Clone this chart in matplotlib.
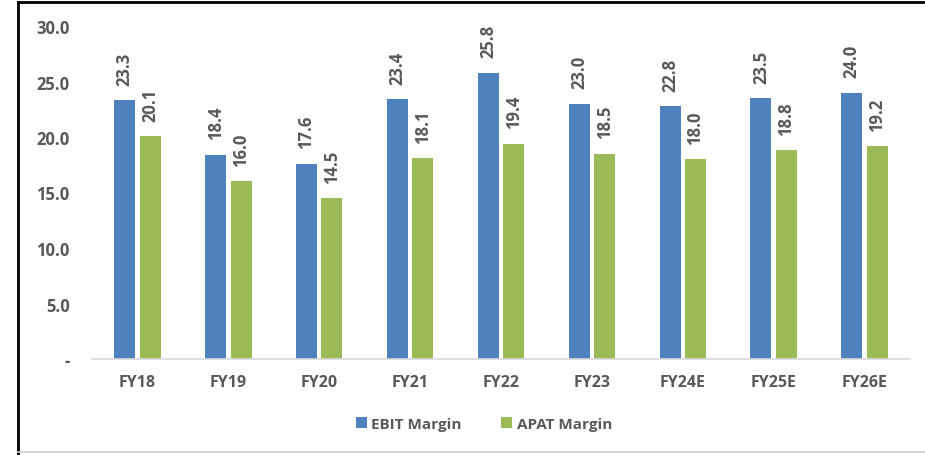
import matplotlib
matplotlib.use("Agg")
import matplotlib.pyplot as plt
from matplotlib.lines import Line2D
import numpy as np

categories = ["FY18", "FY19", "FY20", "FY21", "FY22", "FY23", "FY24E", "FY25E", "FY26E"]
ebit_margin = [23.3, 18.4, 17.6, 23.4, 25.8, 23.0, 22.8, 23.5, 24.0]
apat_margin = [20.1, 16.0, 14.5, 18.1, 19.4, 18.5, 18.0, 18.8, 19.2]
series_names = ["EBIT Margin", "APAT Margin"]
yticks = [0, 5, 10, 15, 20, 25, 30]
ytick_labels = ["-", "5.0", "10.0", "15.0", "20.0", "25.0", "30.0"]

plt.rcParams['font.family'] = ['Open Sans', 'DejaVu Sans']
txt = "#595959"
blue = "#4F81BD"
green = "#9BBB59"

fig = plt.figure(figsize=(9.25, 4.56), dpi=100)
ax = fig.add_axes([92/925, 1-360/456, (910-92)/925, (360-27)/456])

x = np.arange(len(categories))
w = 0.23
off = 0.14
b1 = ax.bar(x - off, ebit_margin, w, color=blue, label=series_names[0])
b2 = ax.bar(x + off, apat_margin, w, color=green, label=series_names[1])

for bars, vals in ((b1, ebit_margin), (b2, apat_margin)):
    for r, v in zip(bars, vals):
        ax.annotate(f"{v:.1f}", (r.get_x() + r.get_width()/2, v), xytext=(0, 11),
                    textcoords="offset points", ha="center", va="bottom",
                    rotation=90, fontsize=12, fontweight="bold", color=txt)

ax.set_xlim(-0.5, len(categories) - 0.5)
ax.set_ylim(0, 30)
ax.set_yticks(yticks)
ax.set_yticklabels(ytick_labels)
ax.set_xticks(x)
ax.set_xticklabels(categories)
for lab in ax.get_yticklabels():
    lab.set_fontweight("bold")
    lab.set_color(txt)
    lab.set_fontsize(12)
for lab in ax.get_xticklabels():
    lab.set_fontweight("bold")
    lab.set_color(txt)
    lab.set_fontsize(11.5)
ax.tick_params(axis="both", length=0)
ax.tick_params(axis="y", pad=16)
ax.tick_params(axis="x", pad=11)
for s in ["top", "right", "left"]:
    ax.spines[s].set_visible(False)
ax.spines["bottom"].set_color("#D9D9D9")
ax.spines["bottom"].set_linewidth(1.2)

leg = fig.legend(loc="center", bbox_to_anchor=(484/925, 1-425/456), ncol=2, frameon=False,
                 handlelength=0.7, handleheight=0.7, columnspacing=2.6, handletextpad=0.3,
                 prop={"weight": "bold", "size": 11})
for t in leg.get_texts():
    t.set_color(txt)

# outer frame
fig.add_artist(Line2D([18/925, 18/925], [0, 1-3/456], transform=fig.transFigure, color="black", lw=2))
fig.add_artist(Line2D([18/925, 1], [1-3/456, 1-3/456], transform=fig.transFigure, color="black", lw=2))
fig.add_artist(Line2D([18/925, 1], [1-453/456, 1-453/456], transform=fig.transFigure, color="#D0D0D0", lw=1.2))

fig.savefig("out.png", dpi=100)
